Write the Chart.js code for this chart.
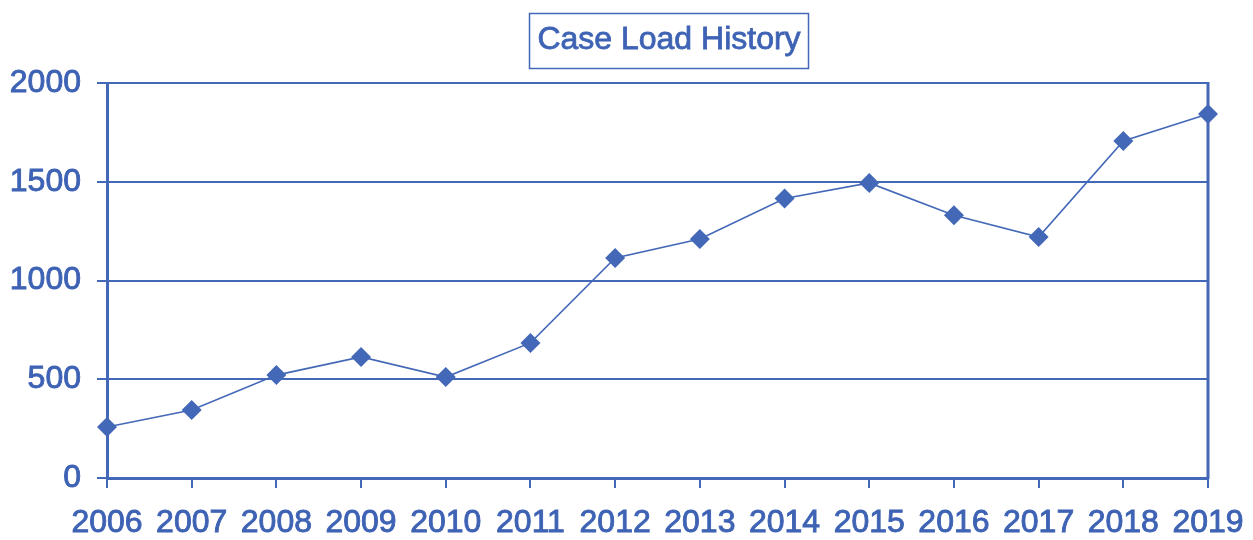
<!DOCTYPE html>
<html lang="en">
<head>
<meta charset="utf-8">
<title>Case Load History</title>
<script src="https://cdn.jsdelivr.net/npm/chart.js"></script>
<style>
	html, body { margin: 0; padding: 0; background: #ffffff; }
	#wrap { width: 1253px; height: 540px; position: relative; }
</style>
</head>
<body>
<div id="wrap">
	<canvas id="myChart"></canvas>
</div>

<script>
	// case counts per year
	const years = ['2006', '2007', '2008', '2009', '2010', '2011', '2012',
	               '2013', '2014', '2015', '2016', '2017', '2018', '2019'];
	const caseLoad = [258, 344, 521, 613, 511, 684, 1114,
	                  1210, 1415, 1494, 1330, 1220, 1706, 1843];
	const yTicks = [0, 500, 1000, 1500, 2000];
	const chartTitle = 'Case Load History';

	const blue = '#4468b8';
	const textBlue = '#3e63b4';
	const font = 'Liberation Sans, Arial, sans-serif';

	// title in a framed box + right-hand border of the plot
	const frameAndTitle = {
		id: 'frameAndTitle',
		afterDraw(chart) {
			const ctx = chart.ctx;
			const area = chart.chartArea;
			ctx.save();
			ctx.strokeStyle = blue;
			ctx.lineWidth = 3;
			ctx.beginPath();
			ctx.moveTo(area.right, area.top - 1);
			ctx.lineTo(area.right, area.bottom + 1);
			ctx.stroke();

			ctx.font = '32px ' + font;
			ctx.fillStyle = textBlue;
			ctx.strokeStyle = textBlue;
			ctx.textAlign = 'center';
			ctx.textBaseline = 'middle';
			const cx = 669, cy = 40;
			ctx.lineWidth = 0.8;
			ctx.strokeText(chartTitle, cx, cy);
			ctx.fillText(chartTitle, cx, cy);
			const w = ctx.measureText(chartTitle).width;
			ctx.strokeStyle = blue;
			ctx.lineWidth = 1.5;
			ctx.strokeRect(Math.round(cx - w / 2 - 8) + 0.5, 13.5, Math.round(w + 16), 55);
			ctx.restore();
		}
	};

	const ctx = document.getElementById('myChart');

	new Chart(ctx, {
		type: 'line',
		data: {
			labels: years,
			datasets: [{
				label: chartTitle,
				data: caseLoad,
				borderColor: blue,
				borderWidth: 1.6,
				backgroundColor: blue,
				pointStyle: 'rectRot',
				pointRadius: 10,
				pointBackgroundColor: blue,
				pointBorderWidth: 0,
				tension: 0
			}]
		},
		options: {
			responsive: true,
			maintainAspectRatio: false,
			animation: false,
			events: [],
			layout: { padding: { top: 83, right: 45, left: 0, bottom: 0 } },
			plugins: {
				legend: { display: false },
				title: { display: false },
				tooltip: { enabled: false }
			},
			scales: {
				x: {
					offset: false,
					afterFit(scale) {
						scale.height = 62;
						scale.paddingLeft = 0;
						scale.paddingRight = 0;
					},
					grid: {
						drawOnChartArea: false,
						drawTicks: true,
						tickLength: 10,
						color: blue,
						lineWidth: 2
					},
					border: { display: true, color: blue, width: 3 },
					ticks: {
						color: textBlue,
						textStrokeColor: textBlue,
						textStrokeWidth: 0.9,
						font: { family: font, size: 32 },
						padding: 16,
						maxRotation: 0,
						autoSkip: false
					}
				},
				y: {
					min: 0,
					max: 2000,
					afterFit(scale) { scale.width = 107; },
					afterBuildTicks(scale) { scale.ticks = yTicks.map(v => ({ value: v })); },
					grid: {
						color: blue,
						lineWidth: 2,
						drawTicks: true,
						tickLength: 10
					},
					border: { display: true, color: blue, width: 3 },
					ticks: {
						color: textBlue,
						textStrokeColor: textBlue,
						textStrokeWidth: 0.9,
						font: { family: font, size: 32 },
						padding: 16,
						callback: v => String(v)
					}
				}
			}
		},
		plugins: [frameAndTitle]
	});
</script>
</body>
</html>
